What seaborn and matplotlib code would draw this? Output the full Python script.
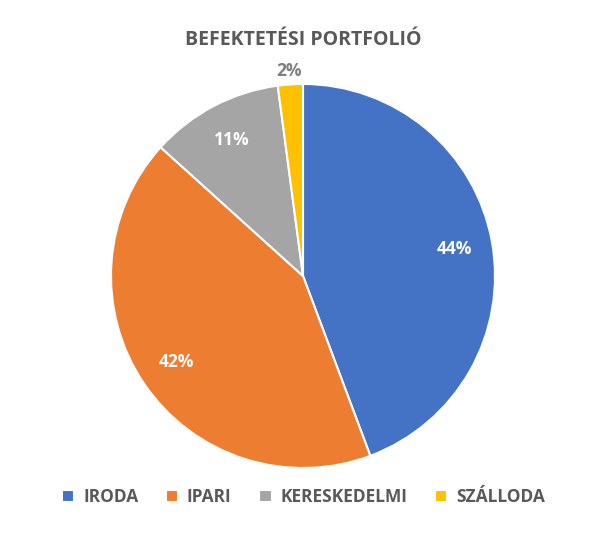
import matplotlib
matplotlib.use("Agg")
import matplotlib.pyplot as plt
import seaborn as sns
import numpy as np

categories = ["IRODA", "IPARI", "KERESKEDELMI", "SZÁLLODA"]
shares = [44.3, 42.4, 11.2, 2.1]
labels = ["44%", "42%", "11%", "2%"]
colors = ["#4472C4", "#ED7D31", "#A5A5A5", "#FFC000"]

sns.set_theme(style="white")
plt.rcParams["font.family"] = "Open Sans"

fig = plt.figure(figsize=(6.07, 5.52), dpi=100)
ax = fig.add_axes([(303 - 192) / 607, 1 - (276 + 192) / 552, 384 / 607, 384 / 552])

wedges, _ = ax.pie(shares, colors=colors, startangle=90, counterclock=False,
                   wedgeprops=dict(edgecolor="white", linewidth=1.5))

#data labels: inside for big slices, outside for the tiny one
for w, lab, s in zip(wedges, labels, shares):
    mid = np.deg2rad((w.theta1 + w.theta2) / 2)
    if s < 5:
        r, col = 1.07, "#7F7F7F"
    else:
        r, col = 0.8, "white"
    ax.text(r * np.cos(mid), r * np.sin(mid), lab, ha="center", va="center",
            color=col, fontsize=12.5, fontweight="bold")
ax.set_xlim(-1, 1)
ax.set_ylim(-1, 1)
ax.set_aspect("equal")
ax.axis("off")

fig.text(0.5, 1 - 40 / 552, "BEFEKTETÉSI PORTFOLIÓ", ha="center", va="center",
         fontsize=14, fontweight="bold", color="#595959")

fig.legend(wedges, categories, loc="center", bbox_to_anchor=(0.5, 1 - 497 / 552),
           ncol=4, frameon=False, handlelength=0.7, handleheight=0.7,
           columnspacing=1.6, handletextpad=0.5,
           prop={"size": 12.5, "weight": "bold"}, labelcolor="#595959")

fig.savefig("out.png", dpi=100)
